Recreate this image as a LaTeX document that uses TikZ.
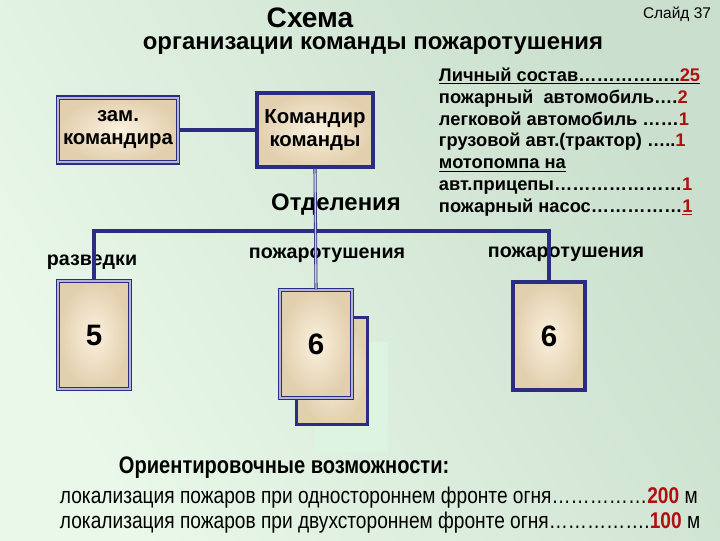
\documentclass[tikz,border=0pt]{standalone}
\usepackage{fontspec}
\setmainfont{Liberation Sans}
\setsansfont{Liberation Sans}
\newfontfamily\narrowfont[FakeStretch=0.84]{Liberation Sans}
\usetikzlibrary{positioning}
\definecolor{Navy}{HTML}{2B2D83}
\definecolor{Beige}{HTML}{FBF1DE}
\definecolor{BeigeEdge}{HTML}{E2CFAE}
\definecolor{BgLight}{HTML}{E9F8E9}
\definecolor{BgDark}{HTML}{CADFCD}
\definecolor{NumRed}{HTML}{B01010}
\definecolor{Pale}{HTML}{DDF4E2}
\newcommand{\num}[1]{\textcolor{NumRed}{#1}}

\begin{document}
\begin{tikzpicture}[x=0.025cm,y=-0.025cm,
 post/.style={draw=Navy,line width=2pt,inner color=Beige,outer color=BeigeEdge,align=center,font=\fontsize{14.5}{16.5}\selectfont\bfseries},
 twin/.style={post,line width=0.8pt,double=Navy!35!white,double distance=1.4pt},
 digit/.style={font=\fontsize{21}{23}\selectfont\bfseries},
 card/.style={minimum width=1.8cm,minimum height=2.7cm},
 head/.style={font=\fontsize{17}{19}\selectfont\bfseries},
 unit/.style={font=\fontsize{14}{16}\selectfont\bfseries},
 link/.style={draw=Navy,line width=2.2pt},
 thin/.style={draw=Navy,line width=0.6pt,double=Navy!25!white,double distance=1pt}]
 % background
 \fill[left color=BgLight,right color=BgDark,shading angle=120] (0,0) rectangle (720,540);
 \useasboundingbox (0,0) rectangle (720,540);
 % title
 \node[head,inner sep=0pt,font=\fontsize{20}{22}\selectfont\bfseries] (title) at (310,18) {Схема};
 \node[head,inner sep=0pt] (subtitle) at (373,46) {организации команды пожаротушения};
 \node[font=\fontsize{11}{13}\selectfont] (slide) at (677,14) {Слайд 37};
 % command
 \node[twin,minimum width=3cm,minimum height=1.62cm] (deputy) at (118,130) {зам.\\командира};
 \node[post,line width=2.6pt,minimum width=2.9cm,minimum height=1.85cm] (chief) at (315,130) {Командир\\команды};
 \draw[link] (deputy) -- (chief);
 \node[head] (units) at (336,205) {Отделения};
 \coordinate (bus) at (0,231);
 % sections
 \node[unit] (scoutlbl) at (92,262) {разведки};
 \node[unit] (firelbl) at (327,255) {пожаротушения};
 \node[unit] (fire2lbl) at (566,254) {пожаротушения};
 \fill[Pale] (315,342) rectangle (388,452);
 \node[post,card,line width=2.6pt,minimum width=1.78cm,minimum height=2.68cm] (fireback) at (332,371) {};
 \node[twin,card,digit] (fire) at (316,344) {6};
 \node[twin,card,digit] (scout) at (94,335) {5};
 \node[post,card,digit,line width=2.6pt] (fire2) at (549,336) {6};
 \draw[link] (scout.north) -- (scout.north |- bus) -| (fire2.north);
 \draw[thin] (chief.south) -- (fire.north);
 % strength
 \node[anchor=north west,align=left,font=\fontsize{13}{15.5}\selectfont\bfseries] (staff) at (434,63)
  {\underline{Личный состав……………..\num{25}}\\
   пожарный\ \ автомобиль….\num{2}\\
   легковой автомобиль ……\num{1}\\
   грузовой авт.(трактор) …..\num{1}\\
   \underline{мотопомпа на}\\
   авт.прицепы…………………\num{1}\\
   пожарный насос……………\num{\underline{1}}};
 % capabilities
 \node[font=\narrowfont\fontsize{17}{19}\selectfont\bfseries,anchor=west] (ability) at (114,468) {Ориентировочные возможности:};
 \node[font=\narrowfont\fontsize{16.2}{18}\selectfont,anchor=north west,align=left] (front) at (55,482)
  {локализация пожаров при одностороннем фронте огня……………\num{\textbf{200}} м\\
   локализация пожаров при двухстороннем фронте огня…………….\num{\textbf{100}} м};
\end{tikzpicture}
\end{document}
